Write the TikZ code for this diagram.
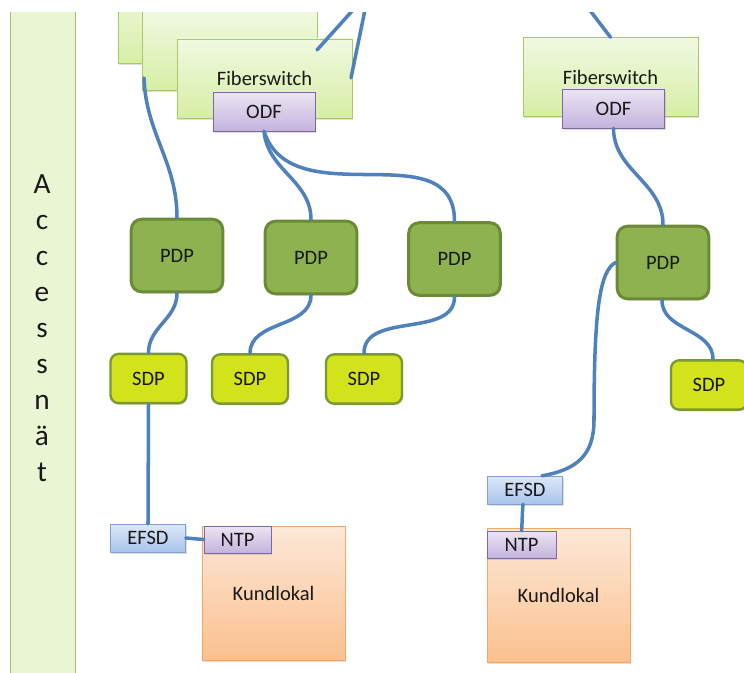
\documentclass[tikz,border=0pt]{standalone}
\usepackage{fontspec}
\setmainfont{Carlito}
\usetikzlibrary{calc,shadows}

\definecolor{fibre}{HTML}{4F81BD}
\definecolor{barfill}{HTML}{E9F5D3}
\definecolor{barline}{HTML}{A4BE74}
\definecolor{swtop}{HTML}{F1F9E2}
\definecolor{swbot}{HTML}{D6EEA4}
\definecolor{swline}{HTML}{A9C86A}
\definecolor{odftop}{HTML}{EBE5F3}
\definecolor{odfbot}{HTML}{C4B3DD}
\definecolor{odfline}{HTML}{8166A5}
\definecolor{pdpfill}{HTML}{8DB24F}
\definecolor{pdpline}{HTML}{6A8A35}
\definecolor{sdpfill}{HTML}{D3E31B}
\definecolor{sdpline}{HTML}{7A9930}
\definecolor{efsdtop}{HTML}{DEE9F8}
\definecolor{efsdbot}{HTML}{A9C3EA}
\definecolor{efsdline}{HTML}{7FA1D5}
\definecolor{kundtop}{HTML}{FDE8D8}
\definecolor{kundbot}{HTML}{FBC08E}
\definecolor{kundline}{HTML}{F2A66A}

\tikzset{
  box/.style={rectangle, inner sep=0pt, text=black!90,
    font=\fontsize{17.5}{20}\selectfont,
    drop shadow={opacity=.25, shadow xshift=1pt, shadow yshift=-1.5pt}},
  switchbox/.style={box, draw=swline, top color=swtop, bottom color=swbot,
    minimum width=5.25cm, minimum height=2.37cm},
  odfbox/.style={box, draw=odfline, top color=odftop, bottom color=odfbot},
  pdpbox/.style={box, draw=pdpline, fill=pdpfill, line width=2.5pt,
    rounded corners=9pt, minimum width=2.75cm, minimum height=2.18cm},
  sdpbox/.style={box, draw=sdpline, fill=sdpfill, line width=2pt,
    rounded corners=7pt, minimum width=2.28cm, minimum height=1.48cm},
  efsdbox/.style={box, draw=efsdline, top color=efsdtop, bottom color=efsdbot,
    minimum width=2.25cm, minimum height=.84cm},
  kundbox/.style={box, draw=kundline, top color=kundtop, bottom color=kundbot,
    minimum width=4.29cm, minimum height=4.02cm},
  fibreline/.style={draw=fibre, line width=3pt, line cap=round}
}

\begin{document}
\begin{tikzpicture}[x=0.03cm,y=-0.03cm]
\useasboundingbox (0,0) rectangle (744,673);
\clip (0,12) rectangle (744,673);

% the access network bar
\node[rectangle, draw=barline, fill=barfill, minimum width=1.95cm,
  minimum height=21cm] (bar) at (42.5,360) {};
\foreach \ch [count=\i] in {A,c,c,e,s,s,n,ä,t}
{
	\node[anchor=base, font=\fontsize{25}{29}\selectfont, text=black!90]
	  (letter\i) at (42,157+36*\i) {\ch};
}

% fiberswitches
\node[switchbox] (fsa) at (205.5,24) {};
\node[switchbox] (fsb) at (229.5,50.5) {};
\node[switchbox] (fsc) at (264.5,78.5) {Fiberswitch};
\node[odfbox, minimum width=3.06cm, minimum height=1.17cm] (odfc) at (264,111.5) {ODF};
\node[switchbox] (fsr) at (610.5,77) {Fiberswitch};
\node[odfbox, minimum width=3.06cm, minimum height=1.17cm] (odfr) at (613.5,108.5) {ODF};

% distribution points
\node[pdpbox] (pdpa) at (177,255.5) {PDP};
\node[pdpbox] (pdpb) at (311,257.5) {PDP};
\node[pdpbox] (pdpc) at (454.5,259) {PDP};
\node[pdpbox] (pdpr) at (663,262.5) {PDP};
\node[sdpbox] (sdpa) at (148.5,378.5) {SDP};
\node[sdpbox] (sdpb) at (250,379) {SDP};
\node[sdpbox] (sdpc) at (364,379) {SDP};
\node[sdpbox] (sdpr) at (709,385) {SDP};

% customer premises
\node[efsdbox] (efsda) at (148,538) {EFSD};
\node[kundbox] (kunda) at (273.5,593) {Kundlokal};
\node[odfbox, minimum width=2.01cm, minimum height=.81cm] (ntpa) at (237.5,539.5) {NTP};
\node[efsdbox] (efsdr) at (525,490) {EFSD};
\node[kundbox] (kundr) at (558.5,595.5) {Kundlokal};
\node[odfbox, minimum width=2.07cm, minimum height=.81cm] (ntpr) at (521.5,544.5) {NTP};

% fibres
\coordinate (topa) at (362,0);
\coordinate (topb) at (367,0);
\coordinate (topr) at (582,0);
\coordinate (ina) at (317,50);
\coordinate (inb) at (351,78);
\coordinate (outb) at (144,78);
\coordinate (bend) at (594,420);
\draw[fibreline] (topa) -- (ina);
\draw[fibreline] (topb) -- (inb);
\draw[fibreline] (topr) -- (fsr.north);
\draw[fibreline] (outb) to[out=-88,in=90] (pdpa.north);
\draw[fibreline] (odfc.south) to[out=-85,in=90] (pdpb.north);
\draw[fibreline] (odfc.south) to[out=-72,in=90,looseness=1.1] (pdpc.north);
\draw[fibreline] (odfr.south) to[out=-90,in=90] (pdpr.north);
\draw[fibreline] (pdpa.south) to[out=-90,in=90] (sdpa.north);
\draw[fibreline] (pdpb.south) to[out=-90,in=90] (sdpb.north);
\draw[fibreline] (pdpc.south) to[out=-90,in=90] (sdpc.north);
\draw[fibreline] ($(pdpr.south)+(-1,0)$) to[out=-90,in=90] ($(sdpr.north)+(4,0)$);
\draw[fibreline] (sdpa.south) -- (efsda.north);
\draw[fibreline] (efsda.east) -- (ntpa.west);
\draw[fibreline] (pdpr.west) .. controls +(-16,8) and +(0,-110) .. (bend)
  .. controls +(0,35) and +(35,-6) .. ($(efsdr.north)+(17,0)$);
\draw[fibreline] ($(efsdr.south)+(-2,0)$) to[out=-95,in=85] (ntpr.north);

\end{tikzpicture}
\end{document}
